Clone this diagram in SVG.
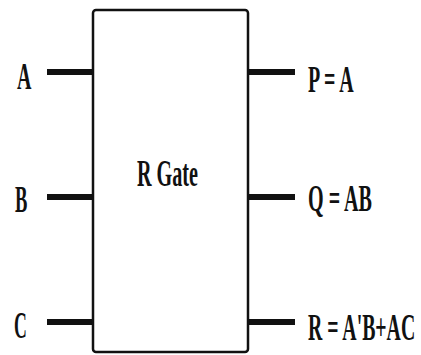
<svg xmlns="http://www.w3.org/2000/svg" width="421" height="355" viewBox="0 0 421 355">
<style>
.box{fill:#fff;stroke:#111;stroke-width:2.5}
.wire{stroke:#111;stroke-width:6;fill:none}
.lbl{font-family:"Liberation Serif","Times New Roman",serif;font-weight:bold;font-size:37px;fill:#111}
</style>
<rect width="421" height="355" fill="#fff"/>
<g id="connectors">
<line class="wire" x1="47" y1="72" x2="93" y2="72"/>
<line class="wire" x1="47" y1="197" x2="93" y2="197"/>
<line class="wire" x1="47" y1="322" x2="93" y2="322"/>
<line class="wire" x1="248" y1="72" x2="295" y2="72"/>
<line class="wire" x1="248" y1="197" x2="295" y2="197"/>
<line class="wire" x1="248" y1="322" x2="295" y2="322"/>
</g>
<g id="rgate">
<rect class="box" x="93" y="10" width="155" height="342" rx="3"/>
<text class="lbl" transform="translate(137,186) scale(0.545,1)">R Gate</text>
</g>
<g id="inA"><text class="lbl" transform="translate(17,89) scale(0.54,1)">A</text></g>
<g id="inB"><text class="lbl" transform="translate(15,212) scale(0.5,1)">B</text></g>
<g id="inC"><text class="lbl" transform="translate(14,338) scale(0.48,1)">C</text></g>
<g id="outP"><text class="lbl" transform="translate(308,92) scale(0.54,1)">P = A</text></g>
<g id="outQ"><text class="lbl" transform="translate(308,211) scale(0.543,1)">Q = AB</text></g>
<g id="outR"><text class="lbl" transform="translate(308,340) scale(0.535,1)">R = A'B+AC</text></g>
</svg>
